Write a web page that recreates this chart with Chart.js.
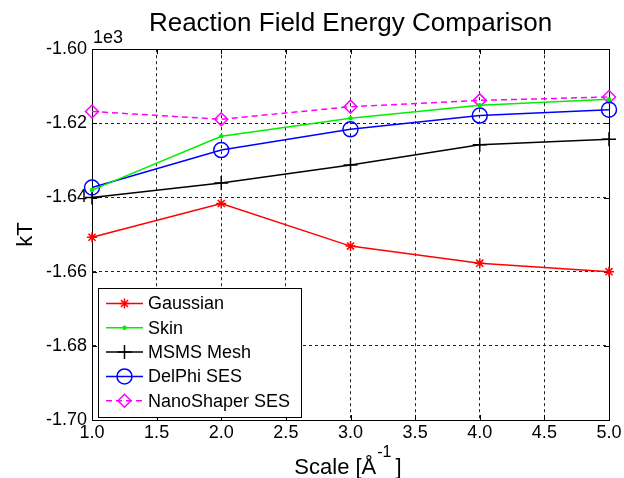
<!DOCTYPE html>
<html>
<head>
<meta charset="utf-8">
<script src="https://cdn.jsdelivr.net/npm/chart.js@4.4.0/dist/chart.umd.min.js"></script>
<style>
  html, body { margin: 0; padding: 0; background: #fff; }
</style>
</head>
<body>
<canvas id="myChart" width="624" height="478"></canvas>
<script>
// values (kT)
var scaleValues = [1, 2, 3, 4, 5];
var gaussianData = [-1650.7, -1641.6, -1653.1, -1657.7, -1660.0];
var skinData = [-1638.0, -1623.5, -1618.6, -1615.1, -1613.5];
var msmsData = [-1640.0, -1636.1, -1631.2, -1625.8, -1624.3];
var delphiData = [-1637.3, -1627.2, -1621.6, -1617.9, -1616.3];
var nanoData = [-1616.8, -1618.9, -1615.5, -1613.8, -1612.9];
var seriesNames = ["Gaussian", "Skin", "MSMS Mesh", "DelPhi SES", "NanoShaper SES"];
var xTicks = [1.0, 1.5, 2.0, 2.5, 3.0, 3.5, 4.0, 4.5, 5.0];
var yTicks = [-1700, -1680, -1660, -1640, -1620, -1600];

const FONT = "'Liberation Sans', Arial, sans-serif";

function pts(arr) {
  return scaleValues.map(function (x, i) { return { x: x, y: arr[i] }; });
}

function serie(label, arr, color, style, radius, dash) {
  return {
    label: label,
    data: pts(arr),
    borderColor: color,
    backgroundColor: "rgba(0,0,0,0)",
    borderWidth: 1.5,
    borderDash: dash || [],
    pointStyle: style,
    pointRadius: radius,
    pointBorderColor: color,
    pointBackgroundColor: style === "circle" && radius < 3 ? color : "rgba(0,0,0,0)",
    pointBorderWidth: 1.5,
    tension: 0,
    clip: false,
  };
}

// frame + inward ticks (matlab look)
const framePlugin = {
  id: "frame",
  beforeDatasetsDraw(chart) {
    const { ctx, chartArea: a, scales } = chart;
    ctx.save();
    ctx.strokeStyle = "#000";
    ctx.lineWidth = 1;
    ctx.setLineDash([]);
    ctx.strokeRect(Math.round(a.left) + 0.5, Math.round(a.top) + 0.5,
      Math.round(a.right - a.left), Math.round(a.bottom - a.top));
    ctx.beginPath();
    xTicks.forEach(function (v) {
      const px = Math.round(scales.x.getPixelForValue(v)) + 0.5;
      ctx.moveTo(px, a.bottom); ctx.lineTo(px, a.bottom - 5);
      ctx.moveTo(px, a.top); ctx.lineTo(px, a.top + 5);
    });
    yTicks.forEach(function (v) {
      const py = Math.round(scales.y.getPixelForValue(v)) + 0.5;
      ctx.moveTo(a.left, py); ctx.lineTo(a.left + 5, py);
      ctx.moveTo(a.right, py); ctx.lineTo(a.right - 5, py);
    });
    ctx.stroke();
    ctx.restore();
  },
};

// axis texts: kT, 1e3 multiplier, Scale [Å^-1]
const textPlugin = {
  id: "texts",
  afterDraw(chart) {
    const { ctx, chartArea: a } = chart;
    ctx.save();
    ctx.fillStyle = "#000";

    ctx.font = "18px " + FONT;
    ctx.textAlign = "left";
    ctx.textBaseline = "alphabetic";
    ctx.fillText("1e3", a.left + 1, 43);

    ctx.save();
    ctx.translate(32, (a.top + a.bottom) / 2);
    ctx.rotate(-Math.PI / 2);
    ctx.font = "22px " + FONT;
    ctx.textAlign = "center";
    ctx.fillText("kT", 0, 0);
    ctx.restore();

    const main = "Scale [Å";
    ctx.font = "22px " + FONT;
    const w1 = ctx.measureText(main).width;
    const w3 = ctx.measureText("]").width;
    ctx.font = "16px " + FONT;
    const w2 = ctx.measureText("-1").width;
    const total = w1 + 1 + w2 + 4 + w3;
    let x = 348 - total / 2;
    ctx.textAlign = "left";
    ctx.font = "22px " + FONT;
    ctx.fillText(main, x, 474);
    x += w1 + 1;
    ctx.font = "16px " + FONT;
    ctx.fillText("-1", x, 457);
    x += w2 + 4;
    ctx.font = "22px " + FONT;
    ctx.fillText("]", x, 474);
    ctx.restore();
  },
};

// legend box in lower left corner
const legendPlugin = {
  id: "boxLegend",
  afterDraw(chart) {
    const ctx = chart.ctx;
    const bx = 98.5, by = 288.5, bw = 203, bh = 129;
    ctx.save();
    ctx.fillStyle = "#fff";
    ctx.fillRect(bx, by, bw, bh);
    ctx.strokeStyle = "#000";
    ctx.lineWidth = 1;
    ctx.strokeRect(bx, by, bw, bh);
    chart.data.datasets.forEach(function (ds, i) {
      const y = 303.5 + i * 24.3;
      ctx.strokeStyle = ds.borderColor;
      ctx.lineWidth = ds.borderWidth;
      ctx.setLineDash(ds.borderDash);
      ctx.beginPath();
      ctx.moveTo(106, y);
      ctx.lineTo(143, y);
      ctx.stroke();
      ctx.setLineDash([]);
      ctx.fillStyle = ds.pointBackgroundColor;
      ctx.lineWidth = ds.pointBorderWidth;
      Chart.helpers.drawPoint(ctx, {
        pointStyle: ds.pointStyle,
        radius: ds.pointRadius,
        borderWidth: ds.pointBorderWidth,
        rotation: 0,
      }, 124.5, y);
      ctx.fillStyle = "#000";
      ctx.font = "18px " + FONT;
      ctx.textAlign = "left";
      ctx.textBaseline = "middle";
      ctx.fillText(ds.label, 148, y + 1);
    });
    ctx.restore();
  },
};

const gridOpts = { color: "#222", lineWidth: 1, drawTicks: false };
const borderOpts = { display: true, color: "#000", width: 1, dash: [3, 3] };

const config = {
  type: "line",
  data: {
    datasets: [
      serie(seriesNames[0], gaussianData, "#ff0000", "star", 5),
      serie(seriesNames[1], skinData, "#00ee00", "circle", 1.5),
      serie(seriesNames[2], msmsData, "#000000", "cross", 7),
      serie(seriesNames[3], delphiData, "#0000ff", "circle", 7.5),
      serie(seriesNames[4], nanoData, "#ff00ff", "rectRot", 6.5, [6, 4]),
    ],
  },
  options: {
    responsive: false,
    animation: false,
    layout: { padding: { left: 0, right: 15, top: 0, bottom: 0 } },
    plugins: {
      legend: { display: false },
      tooltip: { enabled: false },
      title: {
        display: true,
        fullSize: false,
        text: "Reaction Field Energy Comparison",
        color: "#000",
        font: { family: FONT, size: 26, weight: "normal" },
        padding: { top: 8, bottom: 10 },
      },
    },
    scales: {
      x: {
        type: "linear",
        min: 1,
        max: 5,
        grid: gridOpts,
        border: borderOpts,
        afterBuildTicks: function (s) { s.ticks = xTicks.map(function (v) { return { value: v }; }); },
        afterFit: function (s) { s.height = 58; },
        ticks: {
          color: "#000",
          padding: 2,
          maxRotation: 0,
          font: { family: FONT, size: 18 },
          callback: function (v) { return Number(v).toFixed(1); },
        },
      },
      y: {
        type: "linear",
        min: -1700,
        max: -1600,
        grid: gridOpts,
        border: borderOpts,
        afterBuildTicks: function (s) { s.ticks = yTicks.map(function (v) { return { value: v }; }); },
        afterFit: function (s) { s.width = 92; },
        ticks: {
          color: "#000",
          padding: 5,
          font: { family: FONT, size: 18 },
          callback: function (v) { return (v / 1000).toFixed(2); },
        },
      },
    },
  },
  plugins: [framePlugin, textPlugin, legendPlugin],
};

new Chart(document.getElementById("myChart"), config);
</script>
</body>
</html>
